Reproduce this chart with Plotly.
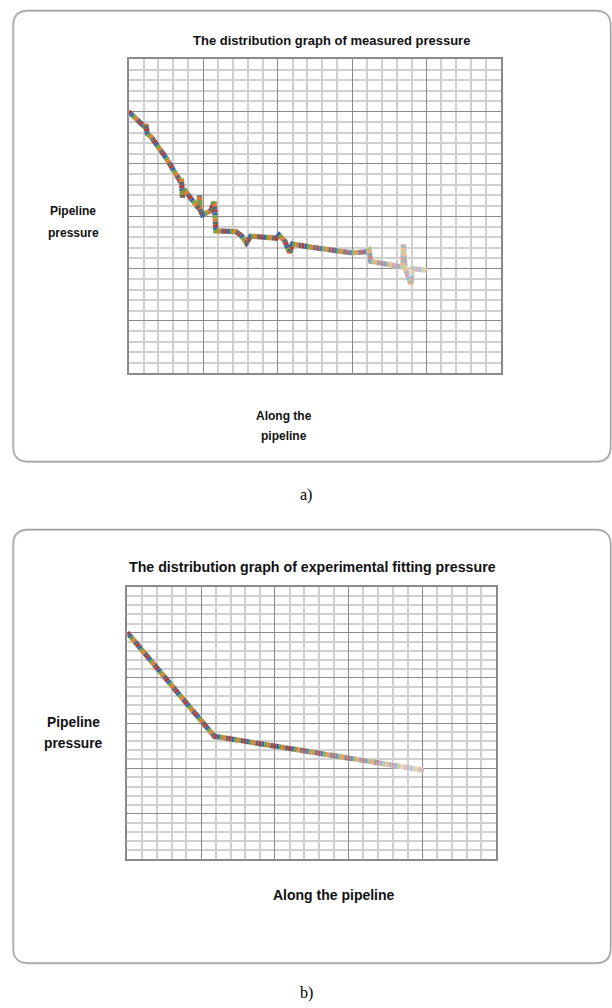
import numpy as np
import plotly.graph_objects as go

W, H = 612, 1008

# ---------------- data ----------------
# (a) measured pressure along the pipeline (relative grid units)
xa = [0.00, 0.15, 0.22, 0.23, 0.25, 0.30, 0.50, 0.70, 0.71, 0.72, 0.74, 0.94, 0.95, 0.96,
      0.99, 1.10, 1.15, 1.17, 1.30, 1.44, 1.52, 1.58, 1.64, 1.80, 1.98, 2.02, 2.10, 2.16,
      2.20, 2.40, 2.70, 3.00, 3.18, 3.23, 3.25, 3.50, 3.68, 3.69, 3.71, 3.79, 3.81, 4.00]
ya = [5.00, 4.80, 4.70, 4.76, 4.58, 4.52, 4.12, 3.65, 3.72, 3.36, 3.52, 3.15, 3.40, 3.12,
      3.03, 3.10, 3.28, 2.72, 2.72, 2.71, 2.62, 2.49, 2.62, 2.60, 2.58, 2.64, 2.52, 2.30,
      2.47, 2.42, 2.35, 2.30, 2.32, 2.36, 2.14, 2.08, 2.03, 2.46, 2.02, 1.70, 2.00, 1.97]

# (b) experimental fitting pressure
xb = [0.00, 1.18, 4.02]
yb = [5.00, 2.71, 1.96]

title_a = "The distribution graph of measured pressure"
title_b = "The distribution graph of experimental fitting pressure"
ylab = ["Pipeline", "pressure"]
xlab_a = ["Along the", "pipeline"]
xlab_b = "Along the pipeline"

series_colors = ["#b03c39", "#3a68a6", "#7f9f3f", "#e07d35", "#666666"]

# ---------------- helpers ----------------
def px(x):
    return x / W

def py(y):
    return 1 - y / H

fig = go.Figure()

def add_line(xs, ys, xaxis, yaxis, fade_bands):
    n = len(series_colors)
    seg = 3
    for i, c in enumerate(series_colors):
        dash = f"0px,{seg*i}px,{seg}px,{seg*(n-1-i)}px"
        fig.add_trace(go.Scatter(x=xs, y=ys, mode="lines", xaxis=xaxis, yaxis=yaxis,
                                 line=dict(color=c, width=5.2, dash=dash),
                                 hoverinfo="skip", showlegend=False))
    xs_arr = np.array(xs)
    ys_arr = np.array(ys)
    for (a, b, op) in fade_bands:
        m = (xs_arr > a) & (xs_arr < b)
        sx = [a] + list(xs_arr[m]) + [b]
        sy = [float(np.interp(a, xs_arr, ys_arr))] + list(ys_arr[m]) + [float(np.interp(b, xs_arr, ys_arr))]
        fig.add_trace(go.Scatter(x=sx, y=sy, mode="lines", xaxis=xaxis, yaxis=yaxis,
                                 line=dict(color="white", width=6.2), opacity=op,
                                 hoverinfo="skip", showlegend=False))

add_line(xa, ya, "x", "y",
         [(2.5, 2.9, 0.1), (2.9, 3.2, 0.22), (3.2, 3.5, 0.38), (3.5, 3.8, 0.5), (3.8, 4.0, 0.6)])
add_line(xb, yb, "x2", "y2",
         [(2.3, 2.7, 0.12), (2.7, 3.1, 0.25), (3.1, 3.4, 0.38), (3.4, 3.7, 0.5), (3.7, 4.02, 0.62)])

def axis(domain, rng, dtick, minor):
    return dict(domain=domain, range=rng, dtick=dtick, tick0=0,
                showticklabels=False, ticks="", zeroline=False,
                showgrid=True, gridcolor="#8a8a8a", gridwidth=1,
                minor=dict(dtick=minor, tick0=0, showgrid=True, gridcolor="#d0d0d0", gridwidth=1.6),
                showline=True, mirror=True, linecolor="#8a8a8a", linewidth=1.5,
                fixedrange=True)

fig.update_layout(
    width=W, height=H, margin=dict(l=0, r=0, t=0, b=0),
    paper_bgcolor="white", plot_bgcolor="white", showlegend=False,
    xaxis=axis([px(128.7), px(501)], [0, 5], 1, 0.2),
    yaxis=axis([py(373.3), py(59.3)], [0, 6], 1, 0.2),
    xaxis2=axis([px(127.3), px(496)], [0, 5], 1, 0.2),
    yaxis2=axis([py(859), py(587.3)], [0, 6], 1, 0.2),
)
fig.layout.yaxis2.anchor = "x2"
fig.layout.xaxis2.anchor = "y2"

# rounded boxes
def rbox(x0, y0, x1, y1, r):
    return (f"M {px(x0+r)},{py(y0)} L {px(x1-r)},{py(y0)} Q {px(x1)},{py(y0)} {px(x1)},{py(y0+r)} "
            f"L {px(x1)},{py(y1-r)} Q {px(x1)},{py(y1)} {px(x1-r)},{py(y1)} "
            f"L {px(x0+r)},{py(y1)} Q {px(x0)},{py(y1)} {px(x0)},{py(y1-r)} "
            f"L {px(x0)},{py(y0+r)} Q {px(x0)},{py(y0)} {px(x0+r)},{py(y0)} Z")

for (x0, y0, x1, y1) in [(13, 10.5, 610.5, 461.5), (13, 529.5, 610.5, 963)]:
    fig.add_shape(type="path", xref="paper", yref="paper",
                  path=rbox(x0 + 0.8, y0 + 0.8, x1 + 0.8, y1 + 0.8, 15),
                  line=dict(color="#d6d6d6", width=1.5), layer="below")
    fig.add_shape(type="path", xref="paper", yref="paper",
                  path=rbox(x0, y0, x1, y1, 15),
                  line=dict(color="#a3a3a3", width=1.3), layer="below")

sans = "Liberation Sans, Arial, sans-serif"
serif = "Liberation Serif, Times New Roman, serif"

def txt(text, x, y, family, size, bold=True, color="#111111"):
    fig.add_annotation(text=f"<b>{text}</b>" if bold else text, x=px(x), y=py(y),
                       xref="paper", yref="paper", showarrow=False,
                       xanchor="center", yanchor="middle",
                       font=dict(family=family, size=size, color=color))

# panel a texts
txt(title_a, 331, 41, sans, 13)
txt(ylab[0], 73, 211, sans, 12)
txt(ylab[1], 73, 233, sans, 12)
txt(xlab_a[0], 284, 416, sans, 12)
txt(xlab_a[1], 284, 436, sans, 12)
# panel b texts
txt(title_b, 312, 567, sans, 14.2)
txt(ylab[0], 73, 722, sans, 13.8)
txt(ylab[1], 73, 743, sans, 13.8)
txt(xlab_b, 334, 895, sans, 14)
# captions
txt("a)", 306, 495, serif, 16, bold=False, color="black")
txt("b)", 306, 993, serif, 16, bold=False, color="black")

fig.write_html("out.html", config={"displayModeBar": False},
               post_script="document.body.style.margin='0px';document.body.style.overflow='hidden';")
